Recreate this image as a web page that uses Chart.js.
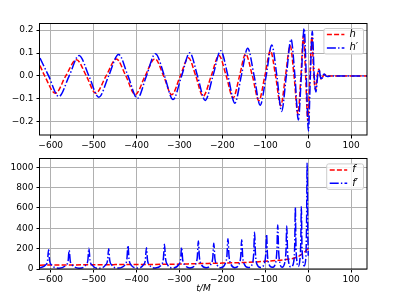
<!DOCTYPE html>
<html lang="en">
<head>
<meta charset="UTF-8">
<title>h, h', f, f'</title>
<script src="https://cdn.jsdelivr.net/npm/chart.js"></script>
<style>
  body { margin: 0; background: #fff; }
  #wrap { position: relative; width: 399px; height: 299px; }
  canvas { position: absolute; left: 0; }
  #top { top: 0; }
  #bot { top: 150px; }
</style>
</head>
<body>
<div id="wrap">
  <canvas id="top" width="399" height="150"></canvas>
  <canvas id="bot" width="399" height="149"></canvas>
</div>
<script>
// --- top panel: h (red dashed) and h' (blue dash-dot)
const hT = [-625, -614, -589, -565, -540, -517, -495, -471, -447, -425, -403, -380, -357, -337, -318, -298, -279, -262, -245, -226, -208, -191, -175, -160, -146, -130, -115, -101, -88, -76, -64, -53, -42, -33, -24, -17, -11, -6, -1, 4, 8.5, 13, 17, 21, 25, 28, 31, 35, 39, 44, 137];
const hV = [0.045, 0, -0.076, 0, 0.071, 0, -0.076, 0, 0.074, 0, -0.082, 0, 0.075, 0, -0.082, 0, 0.079, 0, -0.089, 0, 0.089, 0, -0.096, 0, 0.096, 0, -0.108, 0, 0.110, 0, -0.130, 0, 0.132, 0, -0.166, 0, 0.176, 0, -0.195, 0, 0.170, 0, -0.060, 0, 0.030, 0, -0.015, 0, 0.006, 0, 0];

const hpT = [-625, -605, -581, -557, -534, -511, -488, -465, -442, -420, -398, -377, -356, -335, -315, -295, -276, -258, -240, -222, -204, -187, -171, -156, -141, -126, -112, -98, -85, -73, -62, -51, -40, -31, -23, -16, -9.5, -4.5, 0.5, 5, 9.5, 14, 18, 22, 25.5, 28, 31, 34, 37, 41, 45, 52, 137];
const hpV = [0.078, 0, -0.090, 0, 0.089, 0, -0.093, 0, 0.094, 0, -0.098, 0, 0.097, 0, -0.103, 0, 0.101, 0, -0.107, 0, 0.110, 0, -0.119, 0, 0.121, 0, -0.128, 0, 0.135, 0, -0.155, 0, 0.160, 0, -0.192, 0, 0.207, 0, -0.240, 0, 0.195, 0, -0.070, 0, 0.028, 0, -0.017, 0, 0.008, 0, -0.003, 0, 0];

// --- bottom panel: f (red dashed) and f' (blue dash-dot)
const fT = [-625, -450, -300, -265, -200, -150, -120, -100, -70, -40, -27, -15, -4, 0];
const fV = [38, 43, 48, 52, 58, 64, 70, 76, 85, 100, 115, 145, 184, 205];

const fpT = [-625,
  -612, -607.5, -605, -602.5, -598, -581,
  -564, -559.5, -557, -554.5, -550, -534,
  -518, -513.5, -511, -508.5, -504, -488,
  -472, -467.5, -465, -462.5, -458, -442,
  -427, -422.5, -420, -417.5, -413, -398,
  -384, -379.5, -377, -374.5, -370, -356,
  -342, -337.5, -335, -332.5, -328, -315,
  -302, -297.5, -295, -292.5, -288, -276,
  -263, -258.5, -256, -253.5, -249, -238,
  -227, -222.5, -220, -217.5, -213, -204,
  -194, -189.5, -187, -184.5, -180, -171,
  -161, -157.3, -155, -152.7, -149, -140,
  -130, -127, -125, -123, -120, -111,
  -102, -99, -97, -95, -92, -84,
  -76, -73, -71, -69, -66, -61,
  -54.5, -51.8, -50, -48.2, -45.5, -40,
  -33.5, -31.3, -30, -28.7, -26.5, -23,
  -19.5, -17.3, -16, -14.7, -12.5, -9.5,
  -5.5, -3.8, -2.5, -1.2, 0];
const fpV = [12,
  40, 80, 190, 80, 40, 8,
  40, 78, 184, 78, 40, 8,
  40, 86, 205, 86, 40, 8,
  40, 84, 200, 84, 40, 9,
  40, 97, 232, 97, 40, 9,
  40, 88, 210, 88, 40, 10,
  42, 102, 243, 102, 42, 10,
  42, 90, 214, 90, 42, 11,
  44, 115, 275, 115, 44, 12,
  45, 106, 253, 106, 45, 12,
  47, 125, 298, 125, 47, 13,
  49, 121, 288, 121, 49, 14,
  52, 152, 362, 152, 52, 15,
  55, 143, 340, 143, 55, 16,
  60, 181, 432, 181, 60, 18,
  66, 177, 422, 177, 66, 20,
  78, 254, 605, 254, 78, 25,
  88, 257, 612, 257, 88, 30,
  115, 440, 1040, 440, 130];

const xTicks = [-600, -500, -400, -300, -200, -100, 0, 100];
const hTicks = [-0.2, -0.1, 0, 0.1, 0.2];
const fTicks = [0, 200, 400, 600, 800, 1000];

const RED = '#ff0000', BLUE = '#0000ff';
const DASH = [5, 2.2], DASHDOT = [9, 2.2, 1.4, 2.2];

Chart.defaults.font.family = "'DejaVu Sans', sans-serif";
Chart.defaults.font.size = 9;
Chart.defaults.color = '#000';

const pts = (xs, ys) => xs.map((x, i) => ({ x: x, y: ys[i] }));
const minus = s => s.replace('-', '\u2212');

// frame round the axes + matplotlib style legend in the upper right
const frameLegend = {
  id: 'frameLegend',
  afterDatasetsDraw(chart, args, o) {
    const ctx = chart.ctx, a = chart.chartArea;
    ctx.save();
    ctx.strokeStyle = '#000';
    ctx.lineWidth = 1;
    ctx.strokeRect(Math.round(a.left) - 0.5, Math.round(a.top) + 0.5,
      Math.round(a.right - a.left) + 0.5, Math.round(a.bottom - a.top) - 0.5);

    ctx.font = "italic 10px 'DejaVu Sans'";
    const labW = Math.max(...o.items.map(it => ctx.measureText(it.label).width));
    const w = 26 + labW + 5, h = 25.5;
    const x0 = a.right - 4 - w, y0 = a.top + 5;
    ctx.beginPath();
    ctx.roundRect(x0 + 0.5, y0 + 0.5, w, h, 2);
    ctx.fillStyle = 'rgba(255,255,255,0.8)';
    ctx.fill();
    ctx.strokeStyle = '#cccccc';
    ctx.stroke();
    o.items.forEach((it, i) => {
      const y = y0 + 6.5 + i * 13.4;
      ctx.beginPath();
      ctx.setLineDash(it.dash);
      ctx.strokeStyle = it.color;
      ctx.lineWidth = 1.5;
      ctx.moveTo(x0 + 3.5, y);
      ctx.lineTo(x0 + 21, y);
      ctx.stroke();
      ctx.setLineDash([]);
      ctx.fillStyle = '#000';
      ctx.textBaseline = 'middle';
      ctx.fillText(it.label, x0 + 26, y);
    });
    ctx.restore();
  }
};

function makeChart(id, cfg) {
  const line = (data, color, dash, order) => ({
    data: data, borderColor: color, borderDash: dash, borderWidth: 1.5,
    pointRadius: 0, cubicInterpolationMode: 'monotone', order: order
  });
  return new Chart(document.getElementById(id), {
    type: 'line',
    data: {
      datasets: [
        line(cfg.blue, BLUE, DASHDOT, 0),
        line(cfg.red, RED, DASH, 1)
      ]
    },
    options: {
      responsive: false,
      animation: false,
      devicePixelRatio: 1,
      layout: { padding: { left: 0, right: 32, top: cfg.padTop, bottom: 0 } },
      plugins: {
        legend: { display: false },
        tooltip: { enabled: false },
        frameLegend: { items: cfg.legend }
      },
      scales: {
        x: {
          type: 'linear', min: -625, max: 137,
          afterBuildTicks: s => { s.ticks = xTicks.map(v => ({ value: v })); },
          afterFit: s => { s.height = cfg.xHeight; },
          grid: { color: '#b0b0b0', lineWidth: 1, tickColor: '#000', tickLength: 3.5 },
          border: { display: false },
          ticks: { padding: 2, maxRotation: 0, callback: v => minus(String(v)) },
          title: cfg.xTitle
        },
        y: {
          min: cfg.yMin, max: cfg.yMax,
          afterBuildTicks: s => { s.ticks = cfg.yTicks.map(v => ({ value: v })); },
          afterFit: s => { s.width = 40; },
          grid: { color: '#b0b0b0', lineWidth: 1, tickColor: '#000', tickLength: 3.5 },
          border: { display: false },
          ticks: { padding: 3, callback: cfg.yFmt }
        }
      }
    },
    plugins: [frameLegend]
  });
}

makeChart('top', {
  red: pts(hT, hV), blue: pts(hpT, hpV),
  padTop: 23, xHeight: 15, yMin: -0.258, yMax: 0.231, yTicks: hTicks,
  yFmt: v => minus(Math.abs(v) < 1e-9 ? '0.0' : v.toFixed(1)),
  xTitle: { display: false },
  legend: [
    { label: 'h', color: RED, dash: DASH },
    { label: 'h\u2032', color: BLUE, dash: DASHDOT }
  ]
});

makeChart('bot', {
  red: pts(fT, fV), blue: pts(fpT, fpV),
  padTop: 7, xHeight: 30, yMin: 0, yMax: 1087, yTicks: fTicks,
  yFmt: v => String(v),
  xTitle: { display: true, text: 't/M', font: { style: 'italic', size: 9 }, padding: { top: 0, bottom: 5 } },
  legend: [
    { label: 'f', color: RED, dash: DASH },
    { label: 'f\u2032', color: BLUE, dash: DASHDOT }
  ]
});
</script>
</body>
</html>
